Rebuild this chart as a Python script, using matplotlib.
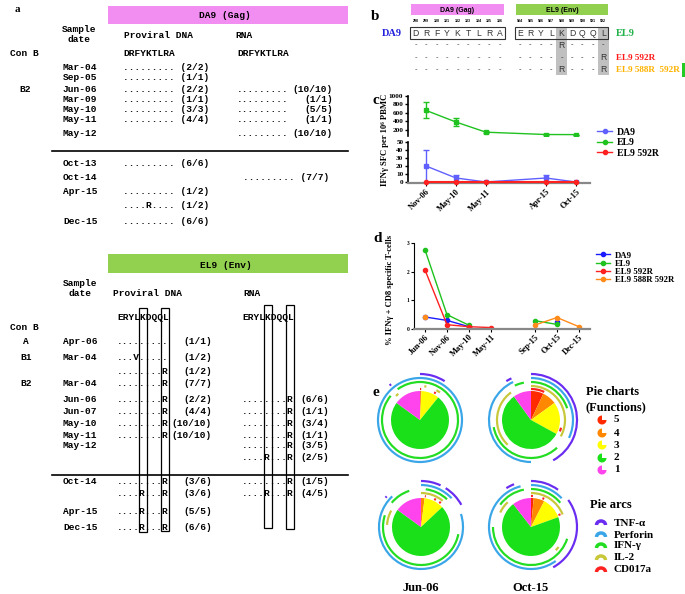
import numpy as np
import matplotlib
matplotlib.use('Agg')
import matplotlib.pyplot as plt
from matplotlib.patches import Rectangle, Wedge, Arc
from matplotlib.lines import Line2D
from matplotlib.font_manager import FontProperties

W, H = 685, 594
SERIF = ['Liberation Serif', 'DejaVu Serif']
MONO = 'Liberation Mono'
SANS = 'Liberation Sans'
PINK = '#f28ef2'
LGREEN = '#92d050'

# ---------------- panel a : DA9 (Gag) ----------------
da9_groups = ['Con B', '', '', 'B2', '', '', '', '', '', '', '', '', '']
da9_dates = ['', 'Mar-04', 'Sep-05', 'Jun-06', 'Mar-09', 'May-10', 'May-11', 'May-12',
             'Oct-13', 'Oct-14', 'Apr-15', '', 'Dec-15']
da9_dna = ['DRFYKTLRA', '.........', '.........', '.........', '.........', '.........',
           '.........', '', '.........', '', '.........', '....R....', '.........']
da9_dna_n = ['', '(2/2)', '(1/1)', '(2/2)', '(1/1)', '(3/3)', '(4/4)', '', '(6/6)', '',
             '(1/2)', '(1/2)', '(6/6)']
da9_rna = ['DRFYKTLRA', '', '', '.........', '.........', '.........', '.........',
           '.........', '', '.........', '', '', '']
da9_rna_n = ['', '', '', '(10/10)', '(1/1)', '(5/5)', '(1/1)', '(10/10)', '', '(7/7)',
             '', '', '']

# ---------------- panel a : EL9 (Env) ----------------
el9_groups = ['', 'A', 'B1', '', 'B2', '', '', '', '', '', '', '', '', '', '']
el9_dates = ['', 'Apr-06', 'Mar-04', '', 'Mar-04', 'Jun-06', 'Jun-07', 'May-10', 'May-11',
             'May-12', '', 'Oct-14', '', 'Apr-15', 'Dec-15']
el9_dna = ['ERYLKDQQL', '.........', '...V.....', '........R', '........R', '........R',
           '........R', '........R', '........R', '', '', '........R', '....R...R',
           '....R...R', '....R...R']
el9_dna_n = ['', '(1/1)', '(1/2)', '(1/2)', '(7/7)', '(2/2)', '(4/4)', '(10/10)', '(10/10)',
             '', '', '(3/6)', '(3/6)', '(5/5)', '(6/6)']
el9_rna = ['ERYLKDQQL', '', '', '', '', '........R', '........R', '........R', '........R',
           '........R', '....R...R', '........R', '....R...R', '', '']
el9_rna_n = ['', '', '', '', '', '(6/6)', '(1/1)', '(3/4)', '(1/1)', '(3/5)', '(2/5)',
             '(1/5)', '(4/5)', '', '']

# ---------------- panel b ----------------
b_da9_pos = [str(p) for p in range(298, 307)]
b_el9_pos = [str(p) for p in range(584, 593)]
b_da9_seq = 'DRFYKTLRA'
b_el9_seq = 'ERYLKDQQL'
b_da9_var = ['---------', '---------', '---------']
b_el9_var = ['----R----', '--------R', '----R---R']
b_labels = ['', 'EL9 592R', 'EL9 588R  592R']
b_label_colors = ['none', '#ff1a1a', '#ffb300']

# ---------------- panel c ----------------
c_dates = ['Nov-06', 'May-10', 'May-11', 'Apr-15', 'Oct-15']
c_da9 = [20, 5, 0, 5, 0]
c_da9_err = [20, 4, 0, 4, 0]
c_el9 = [660, 385, 145, 90, 88]
c_el9_err = [190, 90, 20, 8, 0]
c_592r = [0, 0, 0, 0, 0]

# ---------------- panel d ----------------
d_dates = ['Jun-06', 'Nov-06', 'May-10', 'May-11', 'Sep-15', 'Oct-15', 'Dec-15']
nan = np.nan
d_da9 = [0.42, 0.30, 0.08, nan, nan, 0.24, nan]
d_el9 = [2.76, 0.50, 0.13, nan, 0.29, 0.16, nan]
d_592r = [2.06, 0.15, 0.08, 0.05, nan, nan, nan]
d_588r = [0.43, nan, nan, nan, 0.14, 0.40, 0.08]

# ---------------- panel e ----------------
func_labels = ['5', '4', '3', '2', '1']
func_colors = ['#ff2a00', '#ff8800', '#ffff00', '#19e019', '#ff44ee']
arc_labels = ['TNF-\u03b1', 'Perforin', 'IFN-\u03b3', 'IL-2', 'CD017a']
arc_colors = ['#6a2cf0', '#3aa6e8', '#22dd22', '#c8c83a', '#ff2020']
pie_names = ['Jun-06', 'Oct-15']
pie1 = [0.004, 0.004, 0.10, 0.742, 0.15]
pie2 = [0.07, 0.08, 0.18, 0.57, 0.10]
pie3 = [0.0, 0.02, 0.11, 0.72, 0.15]
pie4 = [0.015, 0.06, 0.12, 0.70, 0.105]
# arcs, inner to outer ring: CD107a, IL-2, IFN-g, Perforin, TNF-a (fractions clockwise from top)
arcs1 = [[(0.0, 0.006), (0.075, 0.085)], [(0.02, 0.03), (0.08, 0.10), (0.875, 0.89)],
         [(0.0, 0.86), (0.90, 1.0)], [(0.0, 1.0)], [(0.0, 0.09), (0.885, 0.892)]]
arcs2 = [[(0.0, 0.07), (0.29, 0.31)], [(0.0, 0.33), (0.62, 0.90)],
         [(0.0, 0.20), (0.38, 0.72), (0.93, 0.97)], [(0.0, 0.32), (0.50, 0.93)],
         [(0.0, 0.42), (0.91, 0.93)]]
arcs3 = [[(0.02, 0.025), (0.07, 0.08), (0.10, 0.11)], [(0.0, 0.11), (0.76, 0.83)],
         [(0.02, 0.12), (0.28, 0.80), (0.86, 0.95)], [(0.0, 0.13), (0.20, 0.88)],
         [(0.0, 0.07), (0.09, 0.17), (0.86, 0.866)]]
arcs4 = [[(0.0, 0.01), (0.06, 0.07), (0.18, 0.19)], [(0.0, 0.19), (0.35, 0.37), (0.82, 0.88)],
         [(0.0, 0.14), (0.30, 0.75), (0.85, 0.97)], [(0.0, 0.13), (0.40, 0.96)],
         [(0.0, 0.10), (0.15, 0.42), (0.91, 0.94)]]

fig = plt.figure(figsize=(6.85, 5.94), dpi=100)
ov = fig.add_axes([0, 0, 1, 1])
ov.set_xlim(0, W)
ov.set_ylim(H, 0)
ov.axis('off')


def px_axes(x0, y0, x1, y1):
    return fig.add_axes([x0 / W, 1 - y1 / H, (x1 - x0) / W, (y1 - y0) / H])


mono = dict(family=MONO, weight='bold', size=6.8, va='center')
bold_serif = dict(family=SERIF, weight='bold')

# ===== panel a =====
ov.text(15, 10, 'a', size=8, va='center', **bold_serif)

# top table
ov.add_patch(Rectangle((108, 6), 240, 18, color=PINK, lw=0))
ov.text(225, 15, 'DA9 (Gag)', ha='center', **mono)
ov.text(79, 29, 'Sample', ha='center', **mono)
ov.text(79, 40, 'date', ha='center', **mono)
ov.text(124, 35, 'Proviral DNA', ha='left', **mono)
ov.text(235, 35, 'RNA', ha='left', **mono)
da9_y = [53, 68, 78, 89, 99, 110, 120, 133, 163, 177, 192, 206, 222]
for i, y in enumerate(da9_y):
    g = da9_groups[i]
    if g == 'Con B':
        ov.text(10, y, g, ha='left', **mono)
    elif g:
        ov.text(25, y, g, ha='center', **mono)
    ov.text(63, y, da9_dates[i], ha='left', **mono)
    s = da9_dna[i] + (' ' + da9_dna_n[i] if da9_dna_n[i] else '')
    ov.text(123, y, s, ha='left', **mono)
    if i < 8:
        ov.text(237, y, da9_rna[i], ha='left', **mono)
        ov.text(333, y, da9_rna_n[i], ha='right', **mono)
    else:
        s = da9_rna[i] + (' ' + da9_rna_n[i] if da9_rna_n[i] else '')
        ov.text(243, y, s, ha='left', **mono)
ov.plot([52, 348], [151, 151], color='black', lw=1.2)

# bottom table
ov.add_patch(Rectangle((108, 254), 240, 19, color=LGREEN, lw=0))
ov.text(226, 265, 'EL9 (Env)', ha='center', **mono)
ov.text(80, 283, 'Sample', ha='center', **mono)
ov.text(80, 294, 'date', ha='center', **mono)
ov.text(113, 294, 'Proviral DNA', ha='left', **mono)
ov.text(243, 294, 'RNA', ha='left', **mono)
ov.text(10, 327, 'Con B', ha='left', **mono)
el9_y = [317, 341, 358, 372, 384, 399, 411, 423, 435, 446, 457, 482, 494, 511, 527]
for i, y in enumerate(el9_y):
    if el9_groups[i]:
        ov.text(26, y, el9_groups[i], ha='center', **mono)
    ov.text(63, y, el9_dates[i], ha='left', **mono)
    ov.text(117, y, el9_dna[i], ha='left', **mono)
    ov.text(212, y, el9_dna_n[i], ha='right', **mono)
    ov.text(242, y, el9_rna[i], ha='left', **mono)
    ov.text(300, y, el9_rna_n[i], ha='left', **mono)
ov.plot([52, 348], [475, 475], color='black', lw=1.2)
for (bx, by, bw, bh) in [(139, 308, 8.5, 224), (161.5, 308, 8, 223),
                         (264, 305, 8.5, 223), (286.5, 305, 8, 224)]:
    ov.add_patch(Rectangle((bx, by), bw, bh, fill=False, ec='black', lw=0.9))

# ===== panel b =====
ov.text(371, 17, 'b', size=11, va='center', **bold_serif)
ov.add_patch(Rectangle((411, 4), 93, 11, color=PINK, lw=0))
ov.add_patch(Rectangle((516, 4), 92, 11, color=LGREEN, lw=0))
ov.text(457, 10, 'DA9 (Gag)', ha='center', va='center', family=SANS, weight='bold', size=5)
ov.text(562, 10, 'EL9 (Env)', ha='center', va='center', family=SANS, weight='bold', size=5)
da9_cols = [415.5 + 10.5 * k for k in range(9)]
el9_cols = [520 + 10.4 * k for k in range(9)]
for k in (4, 8):
    ov.add_patch(Rectangle((el9_cols[k] - 5.5, 27), 11, 48, color='#c0c0c0', lw=0))
ov.add_patch(Rectangle((410, 27), 95, 11.5, fill=False, ec='#333333', lw=0.8))
ov.add_patch(Rectangle((515, 27), 93, 11.5, fill=False, ec='#333333', lw=0.8))
for k in range(9):
    ov.text(da9_cols[k], 21, b_da9_pos[k], ha='center', va='center', family=SANS,
            weight='bold', size=2.6)
    ov.text(el9_cols[k], 21, b_el9_pos[k], ha='center', va='center', family=SANS,
            weight='bold', size=2.6)
    ov.text(da9_cols[k], 33, b_da9_seq[k], ha='center', va='center', family=SANS, size=6.2,
            color='#333333')
    ov.text(el9_cols[k], 33, b_el9_seq[k], ha='center', va='center', family=SANS, size=6.2,
            color='#333333')
b_rows_y = [45, 58, 70]
for j, y in enumerate(b_rows_y):
    for k in range(9):
        ov.text(da9_cols[k], y, b_da9_var[j][k], ha='center', va='center', family=SANS,
                size=5.5, color='#444444')
        ch = b_el9_var[j][k]
        ov.text(el9_cols[k], y, ch, ha='center', va='center', family=SANS,
                size=6.2 if ch == 'R' else 5.5, color='#333333')
    if b_labels[j]:
        ov.text(616, y, b_labels[j], ha='left', va='center', size=6.6,
                color=b_label_colors[j], **bold_serif)
ov.text(402, 33, 'DA9', ha='right', va='center', size=7.5, color='#2020dd', **bold_serif)
ov.text(616, 33, 'EL9', ha='left', va='center', size=7.5, color='#22b34a', **bold_serif)
ov.add_patch(Rectangle((682.5, 63), 2.5, 14, color='#22cc22', lw=0))

# ===== panel c =====
tick_fp = FontProperties(family=SERIF, weight='bold', size=5.2)
leg_fp = FontProperties(family=SERIF, weight='bold', size=7)
C_BLUE, C_GREEN, C_RED, C_ORANGE = '#6060ff', '#1fc21f', '#ff2020', '#ff8c1a'
c_pos = [0, 1, 2, 4, 5]
ov.text(373, 100, 'c', size=11, va='center', **bold_serif)
cu = px_axes(408, 96, 590, 136)
cl = px_axes(408, 142, 590, 183)
# broken axis: EL9 lives in the upper part, DA9 and EL9 592R in the lower part
cu.errorbar(c_pos, c_el9, yerr=c_el9_err, color=C_GREEN, marker='s', ms=3, lw=1,
            capsize=2, elinewidth=1)
cl.errorbar(c_pos, c_da9, yerr=c_da9_err, color=C_BLUE, marker='s', ms=3, lw=1,
            capsize=2, elinewidth=1)
cl.plot(c_pos, c_592r, color=C_RED, marker='o', ms=3, lw=1.5, clip_on=False, zorder=5)
for a in (cu, cl):
    a.set_xlim(-0.6, 5.47)
    for sp in ('top', 'right'):
        a.spines[sp].set_visible(False)
    a.spines['left'].set_linewidth(1.2)
    a.tick_params(axis='y', length=2.5, width=1, pad=0.8)
cu.set_ylim(55, 1000)
cu.set_yticks([200, 400, 600, 800, 1000])
cu.spines['bottom'].set_visible(False)
cu.set_xticks([])
cl.set_ylim(-1.25, 50)
cl.set_yticks([0, 10, 20, 30, 40, 50])
cl.spines['bottom'].set_color('#888888')
cl.spines['bottom'].set_linewidth(1.6)
cl.set_xticks(c_pos)
cl.set_xticklabels(c_dates, rotation=45, ha='right', rotation_mode='anchor')
cl.tick_params(axis='x', length=2.5, pad=1)
for a in (cu, cl):
    for lab in a.get_yticklabels():
        lab.set_fontproperties(tick_fp)
for lab in cl.get_xticklabels():
    lab.set_fontproperties(FontProperties(family=SERIF, weight='bold', size=6))
fig.text(385 / W, 1 - 140 / H, 'IFN\u03b3 SFC per 10\u2076 PBMC', rotation=90, ha='center',
         va='center', family=SERIF, weight='bold', size=6.2)
c_handles = [Line2D([], [], color=C_BLUE, marker='o', ms=3, lw=1),
             Line2D([], [], color=C_GREEN, marker='o', ms=3, lw=1),
             Line2D([], [], color=C_RED, marker='o', ms=3, lw=1)]
fig.legend(c_handles, ['DA9', 'EL9', 'EL9 592R'], loc='upper left',
           bbox_to_anchor=(592 / W, 1 - 123 / H), frameon=False, prop=leg_fp,
           handlelength=1.6, labelspacing=0.15, handletextpad=0.5, borderpad=0)

# ===== panel d =====
d_pos = [0, 1, 2, 3, 5, 6, 7]
ov.text(373, 238, 'd', size=11, va='center', **bold_serif)
ad = px_axes(414, 243, 590, 329)
ad.plot(d_pos, d_da9, color='#1a1aff', marker='o', ms=3, lw=1)
ad.plot(d_pos, d_el9, color=C_GREEN, marker='o', ms=3, lw=1)
ad.plot(d_pos, d_592r, color=C_RED, marker='o', ms=3, lw=1)
ad.plot(d_pos, d_588r, color=C_ORANGE, marker='o', ms=3, lw=1)
ad.set_xlim(-0.5, 7.5)
ad.set_ylim(0, 3)
ad.set_yticks([0, 1, 2, 3])
ad.set_xticks(d_pos)
ad.set_xticklabels(d_dates, rotation=45, ha='right', rotation_mode='anchor')
for sp in ('top', 'right'):
    ad.spines[sp].set_visible(False)
ad.spines['bottom'].set_color('#888888')
ad.spines['bottom'].set_linewidth(1.6)
ad.tick_params(axis='both', length=2, pad=1)
for lab in ad.get_xticklabels():
    lab.set_fontproperties(FontProperties(family=SERIF, weight='bold', size=6))
for lab in ad.get_yticklabels():
    lab.set_fontproperties(FontProperties(family=SERIF, weight='bold', size=4))
fig.text(390 / W, 1 - 290 / H, '% IFN\u03b3 + CD8 specific T-cells', rotation=90,
         ha='center', va='center', family=SERIF, weight='bold', size=6.2)
d_handles = [Line2D([], [], color=c, marker='o', ms=3, lw=1)
             for c in ('#1a1aff', C_GREEN, C_RED, C_ORANGE)]
fig.legend(d_handles, ['DA9', 'EL9', 'EL9 592R', 'EL9 588R 592R'], loc='upper left',
           bbox_to_anchor=(592 / W, 1 - 247 / H), frameon=False,
           prop=FontProperties(family=SERIF, weight='bold', size=6.3),
           handlelength=1.6, labelspacing=0.0, handletextpad=0.5, borderpad=0)

# ===== panel e =====
ov.text(373, 392, 'e', size=11, va='center', **bold_serif)
ring_r = [31, 34, 38, 42, 46]
pies = [(420, 420, pie1, arcs1), (531, 420, pie2, arcs2),
        (421, 527, pie3, arcs3), (531, 527, pie4, arcs4)]
for cx, cy, fr, arcs in pies:
    pa = px_axes(cx - 50, cy - 50, cx + 50, cy + 50)
    pa.pie(fr, colors=func_colors, radius=29, startangle=90, counterclock=False,
           frame=True, wedgeprops=dict(lw=0))
    ring_cols = arc_colors[::-1]
    for k, ivs in enumerate(arcs):
        for f0, f1 in ivs:
            pa.add_patch(Wedge((0, 0), ring_r[k] + 1.1, 90 - 360 * f1, 90 - 360 * f0,
                               width=2.2, color=ring_cols[k], lw=0))
    pa.set_xlim(-50, 50)
    pa.set_ylim(-50, 50)
    pa.axis('off')
ov.text(421, 588, pie_names[0], ha='center', va='center', size=9, **bold_serif)
ov.text(531, 588, pie_names[1], ha='center', va='center', size=9, **bold_serif)

ov.text(586, 392, 'Pie charts', ha='left', va='center', size=9, **bold_serif)
ov.text(586, 407, '(Functions)', ha='left', va='center', size=9, **bold_serif)
for k, y in enumerate([420, 433, 445, 458, 470]):
    ov.add_patch(Wedge((602, y), 4.5, 0, 270, color=func_colors[k], lw=0))
    ov.text(614, y, func_labels[k], ha='left', va='center', size=8, **bold_serif)
ov.text(590, 505, 'Pie arcs', ha='left', va='center', size=9, **bold_serif)
for k, y in enumerate([523, 535, 546, 558, 570]):
    ov.add_patch(Arc((601, y + 2), 9, 8, theta1=180, theta2=360, color=arc_colors[k], lw=2.5))
    ov.text(614, y, arc_labels[k], ha='left', va='center', size=8, **bold_serif)

fig.savefig('out.png', dpi=100)
